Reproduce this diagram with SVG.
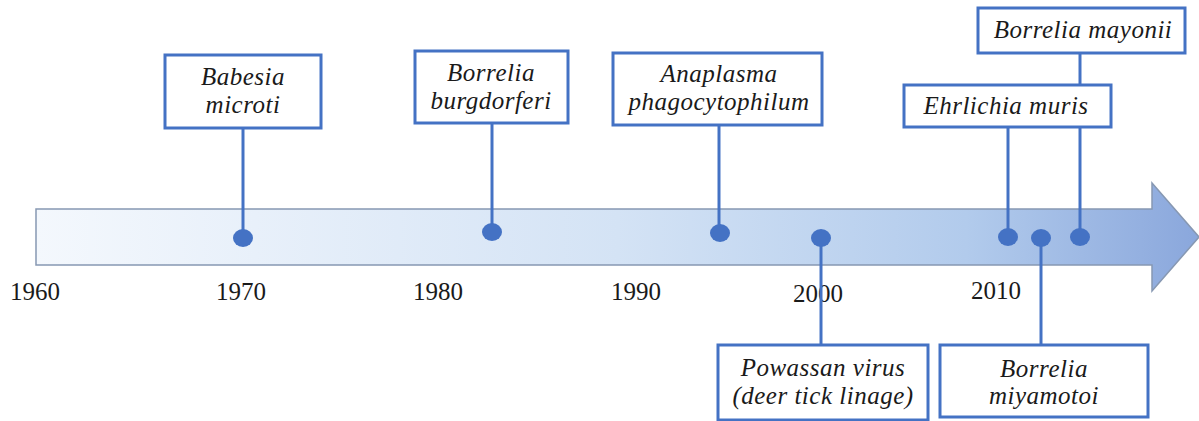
<svg xmlns="http://www.w3.org/2000/svg" width="1199" height="421" viewBox="0 0 1199 421">
<style>
.box{fill:#ffffff;stroke:#4472c4;stroke-width:3}
.conn{stroke:#4472c4;stroke-width:3;fill:none}
.dot{fill:#4472c4}
.lbl{font-family:"Liberation Serif","Times New Roman",serif;font-style:italic;font-size:25px;letter-spacing:0.5px;fill:#1a1a1a;text-anchor:middle}
.yr{font-family:"Liberation Serif","Times New Roman",serif;font-size:25px;fill:#1a1a1a;text-anchor:middle}
</style>
<defs>
<linearGradient id="g" x1="36" y1="0" x2="1199" y2="0" gradientUnits="userSpaceOnUse">
<stop offset="0" stop-color="#f4f8fd"/>
<stop offset="0.5" stop-color="#d4e3f5"/>
<stop offset="0.8" stop-color="#b2cbec"/>
<stop offset="1" stop-color="#8aa7dc"/>
</linearGradient>
</defs>
<g id="timeline-arrow">
<path d="M36 209 H1152 V183 L1199 237 L1152 291 V265 H36 Z" fill="url(#g)" stroke="#8798b2" stroke-width="1.5"/>
</g>
<g id="years">
<text class="yr" x="35" y="300">1960</text>
<text class="yr" x="241" y="300">1970</text>
<text class="yr" x="438" y="300">1980</text>
<text class="yr" x="636" y="300">1990</text>
<text class="yr" x="818" y="302">2000</text>
<text class="yr" x="996" y="299">2010</text>
</g>
<g id="connectors">
<line class="conn" x1="243" y1="128" x2="243" y2="238"/>
<line class="conn" x1="492" y1="123" x2="492" y2="232"/>
<line class="conn" x1="719" y1="125" x2="719" y2="233"/>
<line class="conn" x1="821" y1="238" x2="821" y2="345"/>
<line class="conn" x1="1008" y1="127" x2="1008" y2="237"/>
<line class="conn" x1="1041" y1="238" x2="1041" y2="345"/>
<line class="conn" x1="1080" y1="53" x2="1080" y2="237"/>
</g>
<g id="dots">
<ellipse class="dot" cx="243" cy="238" rx="10" ry="9"/>
<ellipse class="dot" cx="492" cy="232" rx="10" ry="9"/>
<ellipse class="dot" cx="720" cy="233" rx="10" ry="9"/>
<ellipse class="dot" cx="821" cy="238" rx="10" ry="9"/>
<ellipse class="dot" cx="1008" cy="237" rx="10" ry="9"/>
<ellipse class="dot" cx="1041" cy="238" rx="10" ry="9"/>
<ellipse class="dot" cx="1080" cy="237" rx="10" ry="9"/>
</g>
<g id="babesia-microti">
<rect class="box" x="165" y="55" width="156" height="73"/>
<text class="lbl" x="243" y="85">Babesia</text>
<text class="lbl" x="243" y="113">microti</text>
</g>
<g id="borrelia-burgdorferi">
<rect class="box" x="415" y="51" width="153" height="72"/>
<text class="lbl" x="491" y="81">Borrelia</text>
<text class="lbl" x="491" y="109">burgdorferi</text>
</g>
<g id="anaplasma">
<rect class="box" x="613" y="53" width="209" height="72"/>
<text class="lbl" x="719" y="82">Anaplasma</text>
<text class="lbl" x="719" y="110">phagocytophilum</text>
</g>
<g id="ehrlichia-muris">
<rect class="box" x="904" y="85" width="207" height="42"/>
<text class="lbl" x="1006" y="114">Ehrlichia muris</text>
</g>
<g id="borrelia-mayonii">
<rect class="box" x="978" y="8" width="207" height="45"/>
<text class="lbl" x="1083" y="38">Borrelia mayonii</text>
</g>
<g id="powassan">
<rect class="box" x="718" y="345" width="210" height="75"/>
<text class="lbl" x="823" y="376">Powassan virus</text>
<text class="lbl" x="823" y="404">(deer tick linage)</text>
</g>
<g id="borrelia-miyamotoi">
<rect class="box" x="940" y="345" width="208" height="72"/>
<text class="lbl" x="1044" y="377">Borrelia</text>
<text class="lbl" x="1044" y="404">miyamotoi</text>
</g>
</svg>
